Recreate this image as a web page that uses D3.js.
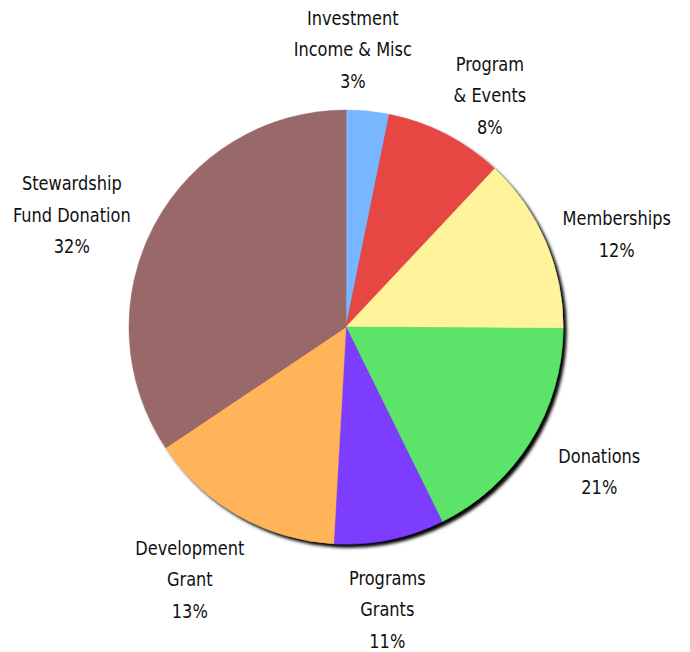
<!DOCTYPE html>
<html>
<head>
<meta charset="utf-8">
<script src="https://cdn.jsdelivr.net/npm/d3@7"></script>
<style>
  body { margin: 0; background: #fff; }
  svg text { font-family: "DejaVu Sans Condensed", "DejaVu Sans", sans-serif; font-stretch: condensed; font-size: 20px; fill: #111; }
</style>
</head>
<body>
<div id="chart"></div>
<script>
// slices, clockwise from 12 o'clock
const categories = [["Investment", "Income & Misc"], ["Program", "& Events"], ["Memberships"], ["Donations"], ["Programs", "Grants"], ["Development", "Grant"], ["Stewardship", "Fund Donation"]];
const slice_values = [3.2, 8.8, 13.1, 17.6, 8.2, 14.7, 34.4];
const percent_labels = ["3%", "8%", "12%", "21%", "11%", "13%", "32%"];
const slice_colors = ["#78b7ff", "#e74643", "#fff49b", "#5ce46b", "#7b3cff", "#ffb45a", "#996767"];

const width = 690, height = 652;
const cx = 346, cy = 327, radius = 217, label_radius = 287, line_h = 31.5;
// hand placement tweaks for the labels (layout only)
const label_nudge = [[-22, 8], [12, 23], [7, 20], [10, -8], [-16, 1], [-14, 3], [-21, 23]];

const svg = d3.select("#chart").append("svg")
  .attr("width", width)
  .attr("height", height);

const defs = svg.append("defs");
const shadow = defs.append("filter")
  .attr("id", "pie-shadow")
  .attr("x", "-10%").attr("y", "-10%")
  .attr("width", "125%").attr("height", "125%");
shadow.append("feDropShadow")
  .attr("dx", 3.5)
  .attr("dy", 3.5)
  .attr("stdDeviation", 1.6)
  .attr("flood-color", "#000")
  .attr("flood-opacity", 1);

const data = slice_values.map((v, i) => ({value: v, name: categories[i], pct: percent_labels[i], color: slice_colors[i], nudge: label_nudge[i]}));

const pie = d3.pie().value(d => d.value).sort(null);
const arcs = pie(data);
const arc = d3.arc().innerRadius(0).outerRadius(radius);

const g = svg.append("g")
  .attr("transform", `translate(${cx},${cy})`);

g.append("g")
  .attr("filter", "url(#pie-shadow)")
  .selectAll("path")
  .data(arcs)
  .enter()
  .append("path")
    .attr("d", arc)
    .attr("fill", d => d.data.color)
    .attr("stroke", d => d.data.color)
    .attr("stroke-width", 0.5);

// labels around the pie, name lines + percent
const labels = g.append("g")
  .selectAll("text")
  .data(arcs)
  .enter()
  .append("text")
    .attr("text-anchor", "middle")
    .attr("transform", d => {
      const a = (d.startAngle + d.endAngle) / 2;
      const x = Math.sin(a) * label_radius + d.data.nudge[0];
      const y = -Math.cos(a) * label_radius + d.data.nudge[1];
      return `translate(${x},${y}) scale(0.9,1)`;
    });

labels.each(function(d){
  const lines = d.data.name.concat([d.data.pct]);
  const t = d3.select(this);
  const top = -(lines.length - 1) * line_h / 2;
  lines.forEach((ln, i) => {
    t.append("tspan")
      .attr("x", 0)
      .attr("y", top + i * line_h)
      .attr("dy", "0.35em")
      .text(ln);
  });
});
</script>
</body>
</html>
